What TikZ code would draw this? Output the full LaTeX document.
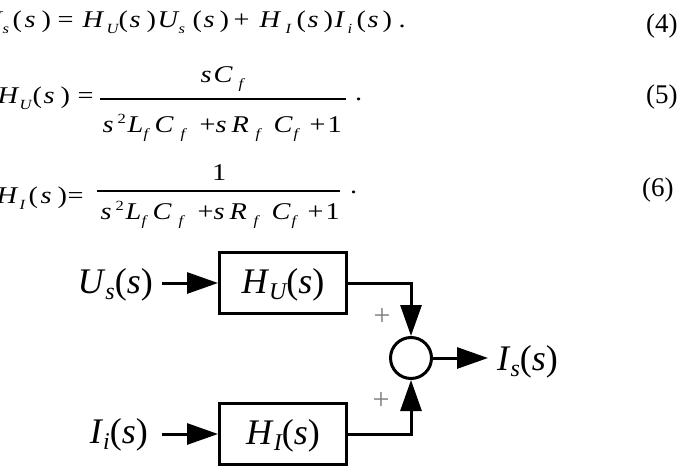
\documentclass[tikz,border=0pt]{standalone}
\usepackage{fontspec}
\setmainfont{Liberation Serif}
\usetikzlibrary{arrows.meta}

% place a piece of an equation at a horizontal offset from the line start
\newcommand\at[2]{\makebox[0pt][l]{\hspace*{#1pt}#2}}
% equation glyphs (slightly widened), sub- and superscripts
\newcommand\eqm[1]{\scalebox{1.18}[1]{\fontsize{24}{24}\selectfont #1}}
\newcommand\eqi[1]{\eqm{\itshape #1}}
\newcommand\eqsub[1]{\raisebox{-6pt}{\scalebox{1.18}[1]{\fontsize{14}{14}\selectfont\itshape #1}}}
\newcommand\eqsup[1]{\raisebox{9pt}{\scalebox{1.18}[1]{\fontsize{14}{14}\selectfont #1}}}
\newcommand\eqnum[1]{{\fontsize{27}{27}\selectfont (#1)}}
% the common denominator  s^2 L_f C_f + s R_f C_f + 1
\newcommand\denom{%
  \at{0}{\eqi{s}}\at{15}{\eqsup{2}}\at{25}{\eqi{L}}\at{41}{\eqsub{f}}%
  \at{52}{\eqi{C}}\at{78}{\eqsub{f}}\at{97}{\eqm{+}}\at{113}{\eqi{s}}%
  \at{129}{\eqi{R}}\at{153}{\eqsub{f}}\at{171}{\eqi{C}}\at{191}{\eqsub{f}}%
  \at{207}{\eqm{+}}\at{225}{\eqm{1}}}
% diagram labels
\newcommand\dsub[1]{\raisebox{-6pt}{\fontsize{24}{24}\selectfont\itshape #1}}

\tikzset{
  eqline/.style={anchor=base west, inner sep=0pt, font=\rmfamily},
  blk/.style={draw, line width=3pt, minimum width=127pt, minimum height=61pt,
    inner sep=0pt, text height=25pt, text depth=5pt,
    font=\rmfamily\fontsize{36}{36}\selectfont},
  sumnode/.style={draw, circle, line width=3pt, minimum size=41pt, inner sep=0pt},
  sig/.style={line width=3pt, -{Triangle[length=31pt,width=21pt]}},
  lbl/.style={inner sep=0pt, font=\rmfamily\fontsize{36}{36}\selectfont},
  plus/.style={inner sep=0pt, text=black!50, font=\rmfamily\fontsize{30}{30}\selectfont},
  fbar/.style={line width=1.8pt}
}

\begin{document}
\begin{tikzpicture}[x=1pt,y=-1pt]
\useasboundingbox (0,0) rectangle (687,468);
\clip (0,0) rectangle (687,468);

% ---- equation (4)
\node[eqline] (eqfour) at (0,28) {%
  \at{-8}{\eqi{I}}\at{2}{\eqsub{s}}\at{12}{\eqm{(}}\at{24}{\eqi{s}}\at{41}{\eqm{)}}%
  \at{57}{\eqm{=}}%
  \at{82}{\eqi{H}}\at{106}{\eqsub{U}}\at{118}{\eqm{(}}\at{129}{\eqi{s}}\at{146}{\eqm{)}}%
  \at{157}{\eqi{U}}\at{178}{\eqsub{s}}\at{192}{\eqm{(}}\at{203}{\eqi{s}}\at{219}{\eqm{)}}%
  \at{233}{\eqm{+}}%
  \at{259}{\eqi{H}}\at{285}{\eqsub{I}}\at{296}{\eqm{(}}\at{307}{\eqi{s}}\at{323}{\eqm{)}}%
  \at{334}{\eqi{I}}\at{347}{\eqsub{i}}\at{356}{\eqm{(}}\at{367}{\eqi{s}}\at{382}{\eqm{)}}%
  \at{398}{\eqm{.}}};
\node[eqline] (nfour) at (646,33) {\eqnum{4}};

% ---- equation (5)
\node[eqline] (eqfive) at (0,103) {%
  \at{-3}{\eqi{H}}\at{19}{\eqsub{U}}\at{32}{\eqm{(}}\at{43}{\eqi{s}}\at{60}{\eqm{)}}%
  \at{77}{\eqm{=}}};
\node[eqline] (numfive) at (200,83) {%
  \at{0}{\eqi{s}}\at{13}{\eqi{C}}\at{38}{\eqsub{f}}};
\node[eqline] (denfive) at (102,132) {\denom};
\draw[fbar] (100,99) coordinate (bfa) -- (346,99) coordinate (bfb);
\node[eqline] (dotfive) at (355,101) {\eqm{.}};
\node[eqline] (nfive) at (646,103) {\eqnum{5}};

% ---- equation (6)
\node[eqline] (eqsix) at (0,203) {%
  \at{-4}{\eqi{H}}\at{19}{\eqsub{I}}\at{28}{\eqm{(}}\at{40}{\eqi{s}}\at{57}{\eqm{)}}%
  \at{67}{\eqm{=}}};
\node[eqline] (numsix) at (212,180) {\eqm{1}};
\node[eqline] (densix) at (100,219) {\denom};
\draw[fbar] (97,191) coordinate (bsa) -- (340,191) coordinate (bsb);
\node[eqline] (dotsix) at (350,193) {\eqm{.}};
\node[eqline] (nsix) at (642,196) {\eqnum{6}};

% ---- block diagram
\node[blk] (hu) at (283,283) {\textit{H}\dsub{U}(\textit{s})};
\node[blk] (hi) at (283,434) {\textit{H}\dsub{I}(\textit{s})};
\node[sumnode] (sum) at (411,358) {};

\node[lbl, anchor=base east] (us) at (153,293) {\textit{U}\dsub{s}(\textit{s})};
\node[lbl, anchor=base east] (ii) at (148,443) {\textit{I}\dsub{i}(\textit{s})};
\node[lbl, anchor=base west] (is) at (497,370) {\textit{I}\dsub{s}(\textit{s})};
\coordinate (out) at (488,358);

\draw[sig] ([xshift=9pt]us.east |- hu.west) -- (hu.west);
\draw[sig] ([xshift=14pt]ii.east |- hi.west) -- (hi.west);
\draw[sig] (hu.east) -| (sum.north);
\draw[sig] (hi.east) -| (sum.south);
\draw[sig] (sum.east) -- (out);

\node[plus] (pu) at (382,317) {+};
\node[plus] (pl) at (381,401) {+};
\end{tikzpicture}
\end{document}
